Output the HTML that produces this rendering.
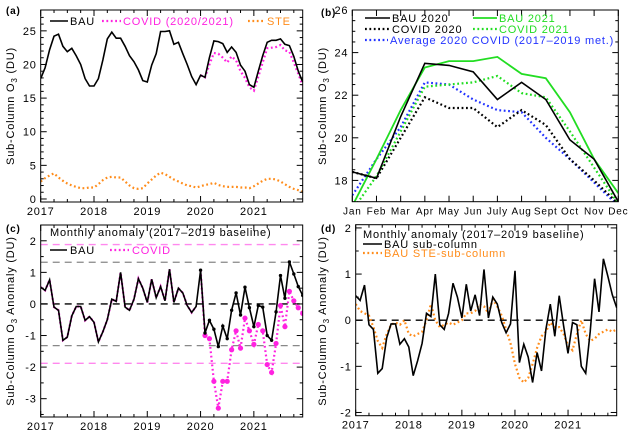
<!DOCTYPE html>
<html><head><meta charset="utf-8"><style>
body{margin:0;background:#fff}
svg{display:block;font-family:"Liberation Sans",sans-serif}
svg text{letter-spacing:0.8px}
</style></head><body>
<svg id="fig" width="629" height="438" viewBox="0 0 629 438" xmlns="http://www.w3.org/2000/svg"></svg>
<script>
// ---- data ----
const years=["2017","2018","2019","2020","2021"];
const months=["Jan","Feb","Mar","Apr","May","Jun","July","Aug","Sept","Oct","Nov","Dec"];
const bauA=[17.9,19.5,22.2,24.2,24.5,22.7,21.9,22.4,21.3,20.0,17.9,16.8,
 16.8,17.9,20.7,23.8,24.8,23.9,23.9,22.7,21.3,20.4,19.2,17.6,
 17.4,19.9,21.6,24.9,24.9,25.0,23.0,23.3,21.6,20.0,18.2,17.0,
 18.4,18.1,21.0,23.5,23.4,23.1,21.8,22.6,21.8,19.9,19.0,17.0,
 16.6,19.0,21.3,23.3,23.6,23.6,23.8,23.0,22.8,21.2,19.0,17.4];
const covidA=[18.4,18.1,20.0,21.7,21.6,21.0,20.3,21.2,20.6,19.0,18.0,16.6,
 16.1,18.2,20.3,22.4,22.5,22.6,22.9,22.1,21.9,20.3,18.6,16.9];
const steA=[2.6,3.1,3.5,3.8,3.2,2.7,2.3,2.0,1.8,1.6,1.6,1.7,
 1.7,2.2,2.8,3.2,3.3,3.2,3.2,2.6,2.0,1.6,1.5,1.6,
 2.3,2.9,3.5,3.9,3.7,3.3,2.9,2.6,2.3,2.0,1.9,1.7,
 1.9,2.1,2.2,2.4,2.1,1.9,1.8,1.8,1.8,1.7,1.7,1.6,
 1.9,2.3,2.7,3.0,3.0,2.9,2.6,2.2,1.8,1.5,1.3,1.1];
const bau2020=[18.4,18.1,21.0,23.5,23.4,23.1,21.8,22.6,21.8,19.9,19.0,17.0];
const bau2021=[16.8,19.0,21.3,23.3,23.6,23.6,23.8,23.0,22.8,21.2,19.0,17.4];
const covid2020=[18.4,18.1,20.0,21.9,21.4,21.4,20.5,21.3,20.6,19.0,18.0,16.9];
const covid2021=[16.6,18.2,20.3,22.4,22.5,22.6,22.9,22.1,21.9,20.3,18.6,16.9];
const avgCovid=[17.3,19.0,20.5,22.6,22.5,21.8,21.3,21.2,20.0,19.0,17.9,16.8];
const anomBau=[0.53,0.43,0.76,-0.1,-0.2,-1.15,-1.05,-0.38,-0.08,-0.08,-0.52,-0.4,
 -0.58,-1.2,-0.88,-0.5,0.15,0.08,1.0,-0.1,-0.2,0.15,0.8,0.5,
 0.05,0.78,0.2,0.55,0.1,1.1,0.05,0.5,0.35,-0.05,-0.27,-0.08,
 1.07,-0.92,-0.52,-0.8,-1.35,-0.7,-1.1,-0.2,0.35,-0.35,0.53,-0.12,
 -0.72,-0.05,-0.1,-1.0,-1.15,-0.25,0.9,0.18,1.33,0.95,0.55,0.27];
const anomCovid=[1.07,-1.0,-1.1,-2.45,-3.3,-2.45,-2.45,-1.45,-0.85,-1.4,-0.45,-0.85,
 -1.28,-0.65,-0.85,-1.92,-2.17,-1.25,-0.05,-0.72,0.4,0.1,-0.12,-0.3];
const anomSte=[0.35,0.2,0.15,0.1,-0.15,-0.45,-0.6,-0.3,-0.1,-0.05,-0.1,0.0,
 -0.3,-0.35,-0.3,-0.25,0.0,0.35,0.0,-0.15,-0.1,-0.05,-0.1,-0.05,
 0.0,0.15,0.15,0.2,0.35,0.3,0.15,0.45,0.3,0.1,-0.2,-0.5,
 -0.95,-1.25,-1.35,-1.25,-0.95,-0.6,-0.35,-0.25,-0.05,-0.15,-0.15,-0.3,
 -0.55,-0.65,-0.3,0.0,-0.3,-0.45,-0.4,-0.3,-0.25,-0.2,-0.25,-0.2];
const ticksA=[0,5,10,15,20,25];
const ticksB=[18,20,22,24,26];
const ticksC=[-3,-2,-1,0,1,2];
const ticksD=[-2,-1,0,1,2];
const sigC=[1.32,1.88];

const NS="http://www.w3.org/2000/svg";
const svg=document.getElementById('fig');
function el(tag,attrs,parent,text){const e=document.createElementNS(NS,tag);for(const k in attrs)e.setAttribute(k,attrs[k]);if(text!==undefined)e.textContent=text;(parent||svg).appendChild(e);return e;}

function panel(id,L,R,T,B,x0,x1,y0,y1){
  const g=el('g',{},svg);
  
  
  const cp=el('clipPath',{id:'cp'+id},g);
  el('rect',{x:L,y:T,width:R-L,height:B-T},cp);
  const sx=v=>L+(v-x0)/(x1-x0)*(R-L);
  const sy=v=>B-(v-y0)/(y1-y0)*(B-T);
  const plot=el('g',{'clip-path':'url(#cp'+id+')'},g);
  return {g,plot,sx,sy,L,R,T,B};
}
function frame(p,name){
  const r=el('rect',{x:p.L,y:p.T,width:p.R-p.L,height:p.B-p.T,fill:'none',stroke:'#000','stroke-width':1},p.g);
  
  
}
function yAxis(p,ticks,minor,name){
  ticks.forEach(t=>{const y=p.sy(t);
    el('line',{x1:p.L,x2:p.L+6,y1:y,y2:y,stroke:'#000'},p.g);
    el('line',{x1:p.R,x2:p.R-6,y1:y,y2:y,stroke:'#000'},p.g);
    const tx=el('text',{x:p.L-4,y:y+4,'text-anchor':'end','font-size':11},p.g,String(t));
    
    
  });
  minor.forEach(t=>{const y=p.sy(t);if(y<p.T||y>p.B)return;
    el('line',{x1:p.L,x2:p.L+3,y1:y,y2:y,stroke:'#000'},p.g);
    el('line',{x1:p.R,x2:p.R-3,y1:y,y2:y,stroke:'#000'},p.g);});
}
function yearAxis(p,name){
  years.forEach((yr,i)=>{const x=p.sx(i*12);
    el('line',{x1:x,x2:x,y1:p.B,y2:p.B-6,stroke:'#000'},p.g);
    el('line',{x1:x,x2:x,y1:p.T,y2:p.T+6,stroke:'#000'},p.g);
    const tx=el('text',{x:x,y:p.B+13,'text-anchor':'middle','font-size':11},p.g,yr);
    
    
  });
  for(let m=0;m<60;m+=3){if(m%12==0)continue;const x=p.sx(m);
    el('line',{x1:x,x2:x,y1:p.B,y2:p.B-3,stroke:'#000'},p.g);
    el('line',{x1:x,x2:x,y1:p.T,y2:p.T+3,stroke:'#000'},p.g);}
}
function series(p,arr,off,style,name,dots){
  const pts=arr.map((v,i)=>p.sx(i+off).toFixed(1)+','+p.sy(v).toFixed(1)).join(' ');
  const a=Object.assign({points:pts,fill:'none'},style);
  const l=el('polyline',a,p.plot);
  
  
  if(dots){arr.forEach((v,i)=>{if(dots.skip&&i<dots.skip)return;
    const c=el('circle',{cx:p.sx(i+off),cy:p.sy(v),r:dots.r,fill:dots.fill},p.plot);
    
    });}
}
function hline(p,v,color,dash,name){
  const l=el('line',{x1:p.L,x2:p.R,y1:p.sy(v),y2:p.sy(v),stroke:color,'stroke-width':1.3,'stroke-dasharray':dash},p.plot);
  
  
}
function txt(x,y,s,opt,name){const t=el('text',Object.assign({x:x,y:y,'font-size':11},opt||{}),svg,s);
  return t;}
function legLine(x1,x2,y,style,name){const l=el('line',Object.assign({x1,x2,y1:y,y2:y},style),svg);
  }
function ytitle(x,y,html,name){const t=el('text',{x:0,y:0,'font-size':11,'text-anchor':'middle',transform:`translate(${x},${y}) rotate(-90)`},svg);
  t.innerHTML=html;}

const solid={stroke:'#000','stroke-width':1.6};
const dotted=c=>({stroke:c,'stroke-width':2.2,'stroke-dasharray':'1.8 2.6'});
const O='#ff8c1a',M='#ff22e0',G='#22dd22',BL='#2233ff';

// ---- panel a ----
const pa=panel('a',40.7,302.7,10,202,0,59,-0.45,28.1);
series(pa,steA,0,dotted(O),'ste-line');
series(pa,covidA,36,dotted(M),'covid-line');
series(pa,bauA,0,solid,'bau-line');
frame(pa,'panel-a');yAxis(pa,ticksA,[1,2,3,4,6,7,8,9,11,12,13,14,16,17,18,19,21,22,23,24,26,27],'panel-a');yearAxis(pa,'panel-a');
txt(6,14,'(a)',{'font-weight':'bold','font-size':10},'panel-a-label');
ytitle(14,106,'Sub-Column O<tspan font-size="8" dy="3">3</tspan><tspan dy="-3"> (DU)</tspan>','panel-a-y-title');
legLine(50,68,21,{stroke:'#000','stroke-width':1.6},'legend-bau-swatch');txt(70,25,'BAU',{},'legend-bau');
legLine(102,121,21,dotted(M),'legend-covid-swatch');txt(123,25,'COVID (2020/2021)',{fill:M},'legend-covid');
legLine(248,264,21,dotted(O),'legend-ste-swatch');txt(267,25,'STE',{fill:O},'legend-ste');

// ---- panel b ----
const pb=panel('b',352.3,618.3,10,201.7,0,11,17,26);
series(pb,avgCovid,0,dotted(BL),'avg-2020-covid-line');
series(pb,covid2020,0,dotted('#000'),'covid-2020-line');
series(pb,covid2021,0,dotted(G),'covid-2021-line');
series(pb,bau2021,0,{stroke:G,'stroke-width':1.8},'bau-2021-line');
series(pb,bau2020,0,solid,'bau-2020-line');
frame(pb,'panel-b');yAxis(pb,ticksB,[18.5,19,19.5,20.5,21,21.5,22.5,23,23.5,24.5,25,25.5],'panel-b');
months.forEach((m,i)=>{const x=pb.sx(i);
  el('line',{x1:x,x2:x,y1:pb.B,y2:pb.B-6,stroke:'#000'},pb.g);
  el('line',{x1:x,x2:x,y1:pb.T,y2:pb.T+6,stroke:'#000'},pb.g);
  const t=el('text',{x:x,y:pb.B+13,'text-anchor':'middle','font-size':10},pb.g,m);
  });
txt(321,16,'(b)',{'font-weight':'bold','font-size':10},'panel-b-label');
ytitle(326,106,'Sub-Column O<tspan font-size="8" dy="3">3</tspan><tspan dy="-3"> (DU)</tspan>','panel-b-y-title');
legLine(365,390,18,{stroke:'#000','stroke-width':1.6},'legend-bau2020-swatch');txt(392,22,'BAU 2020',{},'legend-bau2020');
legLine(473,497,18,{stroke:G,'stroke-width':1.8},'legend-bau2021-swatch');txt(499,22,'BAU 2021',{fill:G},'legend-bau2021');
legLine(365,390,29,dotted('#000'),'legend-covid2020-swatch');txt(392,33,'COVID 2020',{},'legend-covid2020');
legLine(473,497,29,dotted(G),'legend-covid2021-swatch');txt(499,33,'COVID 2021',{fill:G},'legend-covid2021');
legLine(365,388,40,dotted(BL),'legend-avg-swatch');txt(390,44,'Average 2020 COVID (2017\u20132019 met.)',{fill:BL},'legend-avg');

// ---- panel c ----
const pc=panel('c',40.7,302.7,225,417,0,59,-3.58,2.5);
sigC.forEach((s,i)=>{const c=i?'#ff88ee':'#888';hline(pc,s,c,'7 5','sigma-line-upper');hline(pc,-s,c,'7 5','sigma-line-lower');});
hline(pc,0,'#000','7 5','zero-line');
series(pc,anomBau.slice(0,36),0,dotted(M),'covid-anomaly-early');
series(pc,anomCovid,36,dotted(M),'covid-anomaly-line',{r:2.6,fill:M,skip:1});
series(pc,anomBau,0,solid,'bau-anomaly-line');
anomBau.forEach((v,i)=>{if(i<36)return;const c=el('circle',{cx:pc.sx(i),cy:pc.sy(v),r:1.7,fill:'#000'},pc.plot);
  });
frame(pc,'panel-c');yAxis(pc,ticksC,[-3.5,-2.5,-1.5,-0.5,0.5,1.5,2.5],'panel-c');yearAxis(pc,'panel-c');
txt(6,232,'(c)',{'font-weight':'bold','font-size':10},'panel-c-label');
ytitle(14,321,'Sub-Column O<tspan font-size="8" dy="3">3</tspan><tspan dy="-3"> Anomaly (DU)</tspan>','panel-c-y-title');
txt(50,236,'Monthly anomaly (2017\u20132019 baseline)',{},'panel-c-legend-title');
legLine(50,67,250,{stroke:'#000','stroke-width':1.6},'legend-c-bau-swatch');txt(70,254,'BAU',{},'legend-c-bau');
legLine(110,129,250,dotted(M),'legend-c-covid-swatch');txt(132,254,'COVID',{fill:M},'legend-c-covid');

// ---- panel d ----
const pd=panel('d',355.7,616.7,224.7,415.7,0,59,-2.07,2.07);
hline(pd,0,'#000','7 5','zero-line-d');
series(pd,anomSte,0,dotted(O),'ste-anomaly-line');
series(pd,anomBau,0,solid,'bau-subcolumn-anomaly-line');
frame(pd,'panel-d');yAxis(pd,ticksD,[-1.5,-0.5,0.5,1.5],'panel-d');yearAxis(pd,'panel-d');
txt(321,232,'(d)',{'font-weight':'bold','font-size':10},'panel-d-label');
ytitle(326,321,'Sub-Column O<tspan font-size="8" dy="3">3</tspan><tspan dy="-3"> Anomaly (DU)</tspan>','panel-d-y-title');
txt(363,238,'Monthly anomaly (2017\u20132019 baseline)',{},'panel-d-legend-title');
legLine(363,382,244,{stroke:'#000','stroke-width':1.6},'legend-d-bau-swatch');txt(384,248,'BAU sub-column',{},'legend-d-bau');
legLine(363,382,253,dotted(O),'legend-d-ste-swatch');txt(384,257,'BAU STE-sub-column',{fill:O},'legend-d-ste');
</script>
</body></html>
